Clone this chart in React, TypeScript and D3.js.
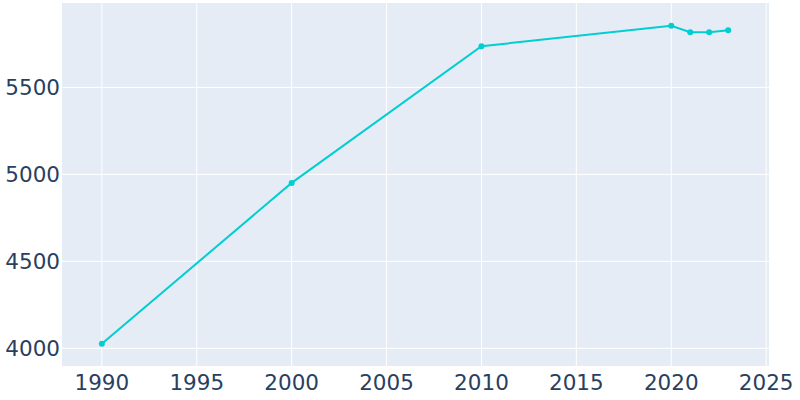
import React from "react";
import * as d3 from "d3";

const years = [1990, 2000, 2010, 2020, 2021, 2022, 2023];
const population = [4026, 4951, 5737, 5855, 5817, 5817, 5829];
const xTicks = [1990, 1995, 2000, 2005, 2010, 2015, 2020, 2025];
const yTicks = [4000, 4500, 5000, 5500];

const W = 800;
const H = 400;
const plot = { left: 62, top: 3, right: 769, bottom: 366 };

export default function App() {
  const x = d3.scaleLinear().domain([1987.9, 2025.15]).range([plot.left, plot.right]);
  const y = d3.scaleLinear().domain([3898, 5985.6]).range([plot.bottom, plot.top]);
  const line = d3
    .line<number>()
    .x((_, i) => x(years[i]))
    .y((d) => y(d));
  const font = "'DejaVu Sans', sans-serif";
  const color = "#2a3f5f";
  const teal = "#00ced1";
  return (
    <svg width={W} height={H} style={{ position: "absolute", left: 0, top: 0 }}>
      <rect x={0} y={0} width={W} height={H} fill="#fff" />
      <rect
        x={plot.left}
        y={plot.top}
        width={plot.right - plot.left}
        height={plot.bottom - plot.top}
        fill="#e5ecf6"
      />
      {xTicks.map((t) => (
        <line key={"gx" + t} x1={x(t)} x2={x(t)} y1={plot.top} y2={plot.bottom} stroke="#fff" strokeWidth={1} />
      ))}
      {yTicks.map((t) => (
        <line key={"gy" + t} x1={plot.left} x2={plot.right} y1={y(t)} y2={y(t)} stroke="#fff" strokeWidth={1} />
      ))}
      <path d={line(population) || ""} fill="none" stroke={teal} strokeWidth={2} />
      {population.map((v, i) => (
        <circle key={"p" + i} cx={x(years[i])} cy={y(v)} r={3} fill={teal} />
      ))}
      {xTicks.map((t) => (
        <text key={"tx" + t} x={x(t)} y={390} textAnchor="middle" fontFamily={font} fontSize={21.5} fill={color}>
          {t}
        </text>
      ))}
      {yTicks.map((t) => (
        <text key={"ty" + t} x={60} y={y(t)} dy="0.36em" textAnchor="end" fontFamily={font} fontSize={21.5} fill={color}>
          {t}
        </text>
      ))}
    </svg>
  );
}
